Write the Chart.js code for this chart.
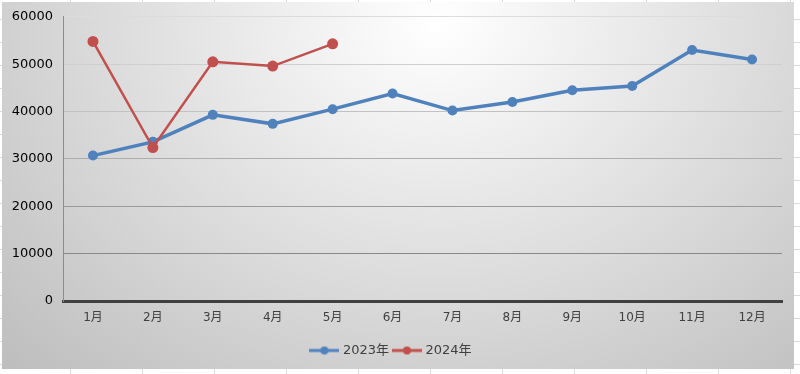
<!DOCTYPE html>
<html>
<head>
<meta charset="utf-8">
<script src="https://cdn.jsdelivr.net/npm/chart.js@4.4.1/dist/chart.umd.min.js"></script>
<style>
    html, body { margin: 0; padding: 0; }
    body {
        width: 800px; height: 374px; overflow: hidden; position: relative;
        background-color: #fff;
        background-image: linear-gradient(to right, #d9d9d9 1px, transparent 1px),
                          linear-gradient(to bottom, #d9d9d9 1px, transparent 1px);
        background-size: 72px 23px;
        background-position: 70px 19px;
    }
    #box {
        position: absolute; left: 2px; top: 2px; width: 792px; height: 367px;
        background: radial-gradient(ellipse farthest-corner at 55% 6%, #ffffff 0%, #bdbdbd 100%);
    }
    #wrap { position: absolute; left: 0; top: -3px; width: 792px; height: 370px; }
</style>
</head>
<body>
<div id="box"><div id="wrap"><canvas id="trendChart"></canvas></div></div>
<script>
// Data
const months = ["1月", "2月", "3月", "4月", "5月", "6月", "7月", "8月", "9月", "10月", "11月", "12月"];
const data_2023 = [30700, 33600, 39300, 37400, 40500, 43800, 40200, 42000, 44500, 45400, 53000, 51000];
const data_2024 = [54800, 32400, 50500, 49600, 54300];

const BLUE = "#4f81bd";
const RED = "#c0504d";

// Legend marker: line with a dot, like the spreadsheet one
function legendMark(color) {
    var c = document.createElement("canvas");
    c.width = 30;
    c.height = 10;
    var ctx = c.getContext("2d");
    ctx.strokeStyle = color;
    ctx.lineWidth = 3;
    ctx.beginPath();
    ctx.moveTo(0, 5);
    ctx.lineTo(30, 5);
    ctx.stroke();
    ctx.fillStyle = color;
    ctx.beginPath();
    ctx.arc(15, 5, 4, 0, 2 * Math.PI);
    ctx.fill();
    return c;
}

// Grid lines get darker towards the bottom
const gridColors = { 60000: "#dcdcdc", 50000: "#cfcfcf", 40000: "#c2c2c2", 30000: "#adadad", 20000: "#9a9a9a", 10000: "#888888", 0: "rgba(0,0,0,0)" };

new Chart("trendChart", {
    type: "line",
    data: {
        labels: months,
        datasets: [{
            label: "2023年",
            data: data_2023,
            borderColor: BLUE,
            backgroundColor: BLUE,
            borderWidth: 3.5,
            pointRadius: 5,
            pointBorderWidth: 0,
            order: 2,
            fill: false
        }, {
            label: "2024年",
            data: data_2024,
            borderColor: RED,
            backgroundColor: RED,
            borderWidth: 2.5,
            pointRadius: 5.5,
            pointBorderWidth: 0,
            order: 1,
            fill: false
        }]
    },
    options: {
        responsive: true,
        maintainAspectRatio: false,
        animation: false,
        layout: { padding: { left: 0, right: 12, top: 4, bottom: 2 } },
        plugins: {
            tooltip: { enabled: false },
            legend: {
                position: "bottom",
                labels: {
                    usePointStyle: true,
                    pointStyleWidth: 24,
                    generateLabels: function (chart) {
                        return chart.data.datasets.map(function (ds, i) {
                            return {
                                text: ds.label,
                                pointStyle: legendMark(ds.borderColor),
                                fontColor: "#404040",
                                datasetIndex: i,
                                lineWidth: 0,
                                hidden: false
                            };
                        });
                    },
                    boxHeight: 10,
                    padding: 6,
                    font: { family: "'DejaVu Sans', 'Noto Sans CJK SC'", size: 13 }
                }
            }
        },
        scales: {
            x: {
                offset: true,
                grid: { display: false, drawTicks: false },
                border: { display: true, color: "#404040", width: 3 },
                ticks: {
                    color: "#404040",
                    padding: 10,
                    maxRotation: 0,
                    font: { family: "'DejaVu Sans', 'Noto Sans CJK SC'", size: 12 }
                },
                afterFit: function (scale) { scale.height = 37; }
            },
            y: {
                min: 0,
                max: 60000,
                grid: {
                    drawTicks: false,
                    color: function (ctx) { return gridColors[ctx.tick.value] || "#c0c0c0"; },
                    lineWidth: 1
                },
                border: { display: true, color: "#8c8c8c", width: 1 },
                ticks: {
                    stepSize: 10000,
                    color: "#000000",
                    padding: 10,
                    font: { family: "'DejaVu Sans'", size: 13 },
                    callback: function (v) { return String(v); }
                },
                afterFit: function (scale) { scale.width = 61; }
            }
        }
    }
});
</script>
</body>
</html>
